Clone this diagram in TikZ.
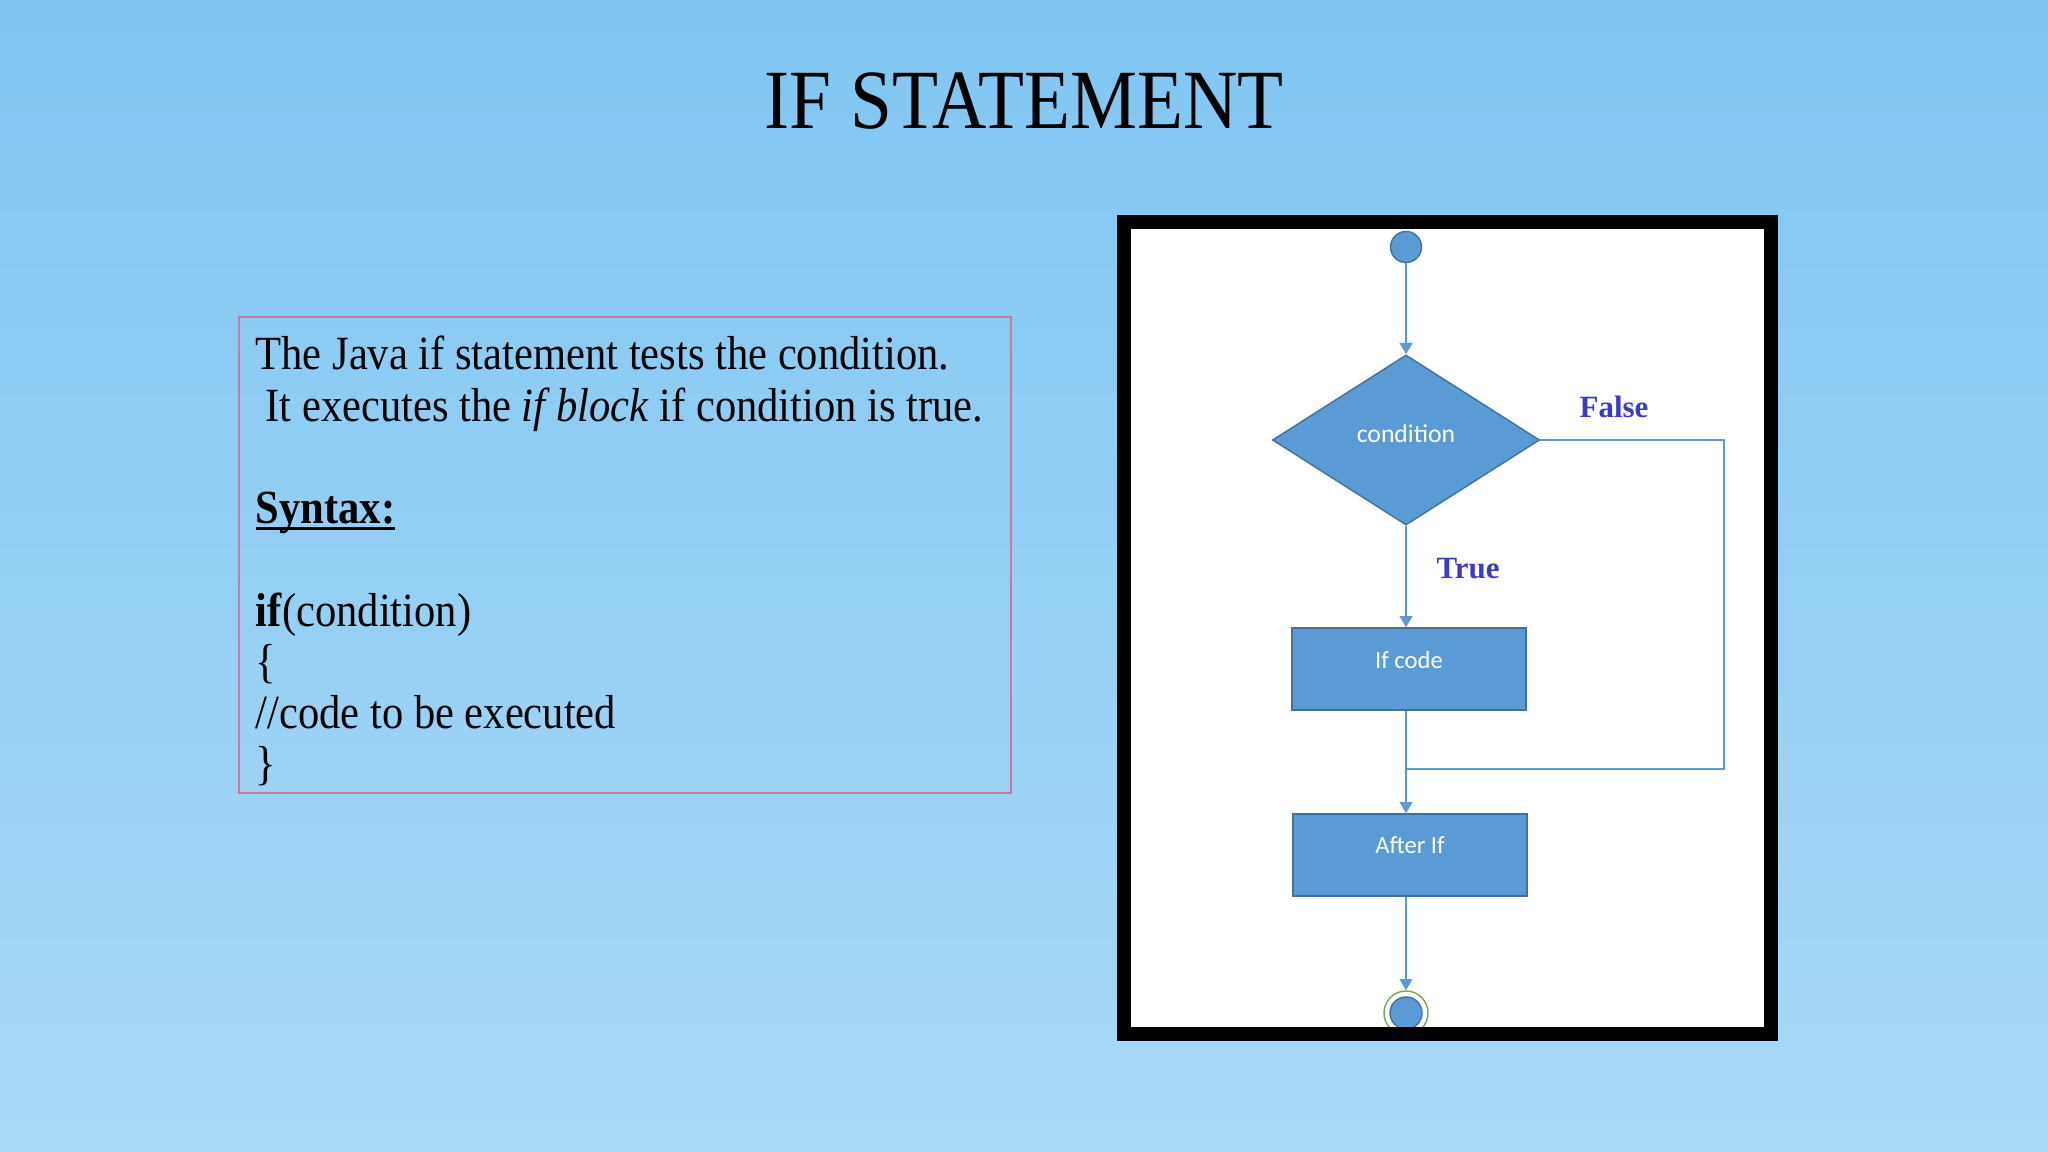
\documentclass[tikz,border=0pt]{standalone}
\usepackage{fontspec}
\setmainfont{Liberation Serif}
\newfontfamily\boxfont{Carlito}
\usetikzlibrary{shapes.geometric,arrows.meta}

\definecolor{skytop}{HTML}{80C6F2}
\definecolor{skybot}{HTML}{A9D9F7}
\definecolor{flowfill}{HTML}{5B9BD5}
\definecolor{flowedge}{HTML}{41719C}
\definecolor{lblblue}{HTML}{3B3BC4}
\definecolor{boxedge}{HTML}{C97A9E}
\definecolor{ringgreen}{HTML}{70AD47}

\newcommand{\tallbox}[1]{\scalebox{1}[1.12]{#1}}
\newcommand{\lowline}[1]{\setbox0\hbox{#1}\rlap{\rule[-1.5pt]{\wd0}{0.6pt}}\box0}

\tikzset{
  flowbox/.style={draw=flowedge, fill=flowfill, text=white,
    font=\boxfont\fontsize{7}{8}\selectfont,
    minimum width=2.34cm, minimum height=0.82cm, inner sep=0pt},
  flowline/.style={draw=flowfill, line width=0.6pt},
  flowarrow/.style={flowline, -{Triangle[length=3.2pt,width=3.6pt]}},
  branchlbl/.style={text=lblblue, font=\bfseries\fontsize{8.8}{10}\selectfont}
}

\begin{document}
\begin{tikzpicture}[x=0.01cm, y=-0.01cm]
  % slide background
  \shade[top color=skytop, bottom color=skybot] (0,0) rectangle (2048,1152);
  \useasboundingbox (0,0) rectangle (2048,1152);

  \node[anchor=base, font=\fontsize{21.4}{24}\selectfont] (title) at (1024,129) {\tallbox{IF STATEMENT}};

  % text panel
  \draw[boxedge, line width=0.35pt] (239,317) rectangle (1011,793);
  \node[anchor=base west, inner sep=0pt] (body) at (255,370) {\tallbox{\fontsize{12.1}{13.0}\selectfont
    \begin{tabular}[t]{@{}l@{}}
      The Java if statement tests the condition.\\
      \hspace{2.8pt}It executes the \textit{if block} if condition is true.\\
      \\
      \lowline{\textbf{Syntax:}}\\
      \\
      \textbf{if}(condition)\\
      \{\\
      //code to be executed\\
      \}
    \end{tabular}}};

  % flowchart panel
  \fill[white] (1124,222) rectangle (1771,1034);

  \node[circle, fill=flowfill, draw=flowedge, minimum size=0.31cm, inner sep=0pt] (start) at (1406,247) {};
  \node[diamond, fill=flowfill, draw=flowedge, minimum width=2.67cm, minimum height=1.70cm, inner sep=0pt,
    text=white, font=\boxfont\fontsize{7.3}{8}\selectfont] (cond) at (1406,440) {\raisebox{3.9pt}{condition}};
  \node[flowbox] (ifcode) at (1409,669) {\raisebox{4.9pt}{If code}};
  \node[flowbox] (afterif) at (1410,855) {\raisebox{5.7pt}{After If}};
  \node[circle, draw=ringgreen, line width=0.4pt, minimum size=0.44cm, inner sep=0pt] (ring) at (1406,1013) {};
  \node[circle, fill=flowfill, draw=flowedge, minimum size=0.32cm, inner sep=0pt] (stop) at (1406,1013) {};
  \coordinate (falsecorner) at (1724,769);

  \draw[flowarrow] (start) -- (cond.north);
  \draw[flowarrow] (cond.south) -- (ifcode.north -| cond.south);
  \draw[flowarrow] (ifcode.south -| start) -- (afterif.north -| start);
  \draw[flowarrow] (afterif.south -| start) -- (ring.north);
  \draw[flowline] (cond.east) -| (falsecorner) -- (falsecorner -| start);

  \node[branchlbl] (truelbl) at (1468,569) {True};
  \node[branchlbl] (falselbl) at (1614,407) {False};

  \draw[line width=0.14cm] (1124,222) rectangle (1771,1034);
\end{tikzpicture}
\end{document}
